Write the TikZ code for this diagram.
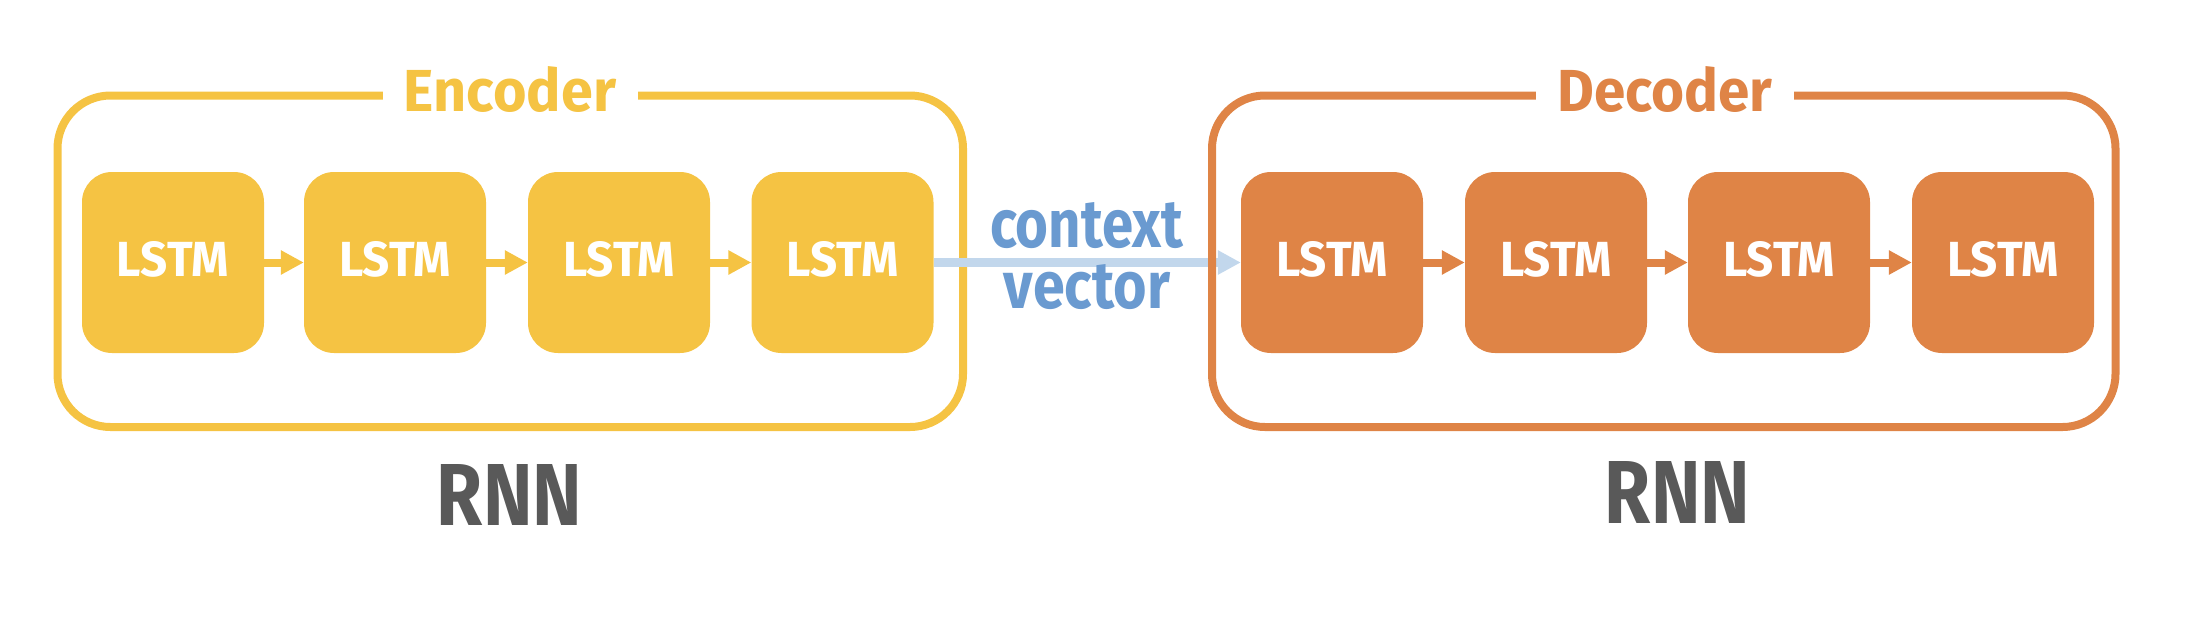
\documentclass[tikz,border=0pt]{standalone}
\usepackage{fontspec}
\setmainfont{Fira Sans}
\usetikzlibrary{arrows.meta}
\definecolor{encc}{HTML}{F5C343}
\definecolor{decc}{HTML}{DF8446}
\definecolor{rnnc}{HTML}{595959}
\definecolor{ctxtext}{HTML}{6A9AD0}
\definecolor{ctxline}{HTML}{C2D7EC}
\newcommand{\fitbox}[3]{\resizebox{#1pt}{#2pt}{\bfseries #3}}
\begin{document}
\begin{tikzpicture}[x=1pt,y=-1pt,
  cell/.style={rounded corners=30pt, minimum width=182pt, minimum height=181pt, inner sep=0pt, text depth=8pt, text=white},
  enccell/.style={cell, fill=encc},
  deccell/.style={cell, fill=decc},
  frame/.style={draw, line width=8pt, rounded corners=53pt, minimum height=331.5pt, inner sep=0pt},
  title/.style={fill=white, inner sep=0pt, minimum height=30pt},
  link/.style={line width=8pt, -{Triangle[length=23pt,width=23pt]}},
  ctxarrow/.style={line width=9pt, ctxline, -{Triangle[length=23pt,width=23pt]}}
]
\useasboundingbox (0,0) rectangle (2188,630);
% encoder frame
\node[frame, draw=encc, minimum width=905.5pt] (encframe) at (510.25,261.25) {};
\node[title, text=encc, minimum width=255pt] (enctitle) at (510,89.5) {\fitbox{212}{45}{Encoder}};
% cells
\node[enccell] (e1) at (173,262.5) {\fitbox{112}{35}{LSTM}};
\node[enccell] (e2) at (395,262.5) {\fitbox{112}{35}{LSTM}};
\node[enccell] (e3) at (619,262.5) {\fitbox{112}{35}{LSTM}};
\node[enccell] (e4) at (842.5,262.5) {\fitbox{112}{35}{LSTM}};
\node[deccell] (d1) at (1332,262.5) {\fitbox{112}{35}{LSTM}};
\node[deccell] (d2) at (1556,262.5) {\fitbox{112}{35}{LSTM}};
\node[deccell] (d3) at (1779,262.5) {\fitbox{112}{35}{LSTM}};
\node[deccell] (d4) at (2003,262.5) {\fitbox{112}{35}{LSTM}};
% links
\draw[link, encc] (e1) -- (e2);
\draw[link, encc] (e2) -- (e3);
\draw[link, encc] (e3) -- (e4);
\draw[link, decc] (d1) -- (d2);
\draw[link, decc] (d2) -- (d3);
\draw[link, decc] (d3) -- (d4);
% context vector
\draw[ctxarrow] (e4) -- (d1);
\node[text=ctxtext, inner sep=0pt] (ctxa) at (1086.5,225.5) {\fitbox{193}{45}{context}};
\node[text=ctxtext, inner sep=0pt] (ctxb) at (1087,287) {\fitbox{166}{44}{vector}};
% decoder frame
\node[frame, draw=decc, minimum width=903.5pt] (decframe) at (1663.75,261.25) {};
\node[title, text=decc, minimum width=258pt] (dectitle) at (1665,89.5) {\fitbox{215}{45}{Decoder}};
% RNN labels
\node[text=rnnc, inner sep=0pt] (encrnn) at (509.5,494.5) {\fitbox{145}{61}{RNN}};
\node[text=rnnc, inner sep=0pt] (decrnn) at (1677.5,492) {\fitbox{145}{62}{RNN}};
\end{tikzpicture}
\end{document}
